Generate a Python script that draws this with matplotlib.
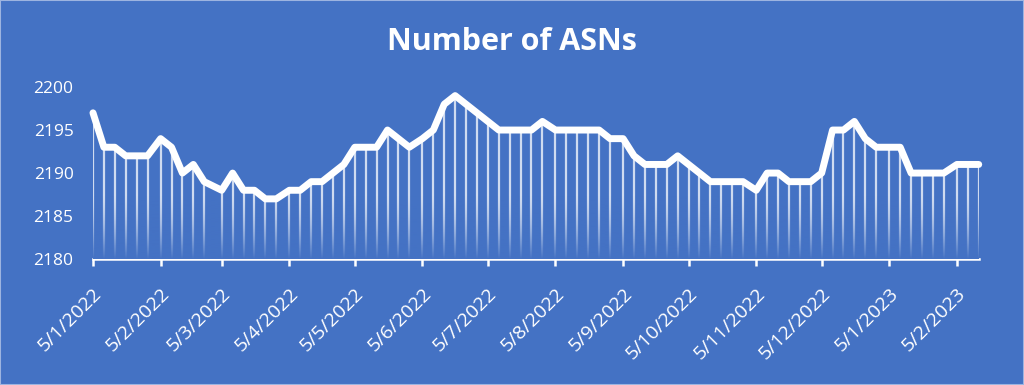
import matplotlib
matplotlib.use('Agg')
import matplotlib.pyplot as plt
import matplotlib.dates as mdates
import numpy as np
from datetime import date
from matplotlib.patches import Rectangle

# readings taken on day 5, 10, 15, 20, 25, 30 of each month (no 30 Feb)
days = [5, 10, 15, 20, 25, 30]
months = [(2022, m) for m in range(1, 13)] + [(2023, 1), (2023, 2)]
dates = [date(y, m, d) for (y, m) in months for d in days
         if not (m == 2 and d == 30)]
dates = dates[:80]  # data ends on 15/2/2023

asns = [2197, 2193, 2193, 2192, 2192, 2192,   # Jan 2022
        2194, 2193, 2190, 2191, 2189,         # Feb
        2188, 2190, 2188, 2188, 2187, 2187,   # Mar
        2188, 2188, 2189, 2189, 2190, 2191,   # Apr
        2193, 2193, 2193, 2195, 2194, 2193,   # May
        2194, 2195, 2198, 2199, 2198, 2197,   # Jun
        2196, 2195, 2195, 2195, 2195, 2196,   # Jul
        2195, 2195, 2195, 2195, 2195, 2194,   # Aug
        2194, 2192, 2191, 2191, 2191, 2192,   # Sep
        2191, 2190, 2189, 2189, 2189, 2189,   # Oct
        2188, 2190, 2190, 2189, 2189, 2189,   # Nov
        2190, 2195, 2195, 2196, 2194, 2193,   # Dec
        2193, 2193, 2190, 2190, 2190, 2190,   # Jan 2023
        2191, 2191, 2191]                     # Feb 2023

bg = '#4472C4'
plt.rcParams['font.family'] = ['Open Sans', 'DejaVu Sans']

fig = plt.figure(figsize=(10.24, 3.85), dpi=100)
fig.patch.set_facecolor(bg)
fig.patches.append(Rectangle((0, 0), 1, 1, transform=fig.transFigure,
                             fill=False, edgecolor='#9DB4E0', lw=1.5))

ax = fig.add_axes([0.0908, 0.327, 0.865, 0.447])
ax.set_facecolor(bg)

xd = mdates.date2num(dates)
ax.vlines(xd, 2180, asns, color='white', lw=1.6, alpha=0.75, zorder=2)

# fade the drop lines toward the axis
grad = np.zeros((100, 1, 4))
rgb = matplotlib.colors.to_rgb(bg)
grad[..., :3] = rgb
grad[:, 0, 3] = np.linspace(0, 1, 100) ** 1.5
ax.imshow(grad, extent=[xd[0] - 2, xd[-1] + 2, 2180, 2187.5], aspect='auto',
          origin='upper', zorder=3, interpolation='bilinear')

ax.plot(xd, asns, color='white', lw=5, solid_joinstyle='round',
        solid_capstyle='round', zorder=4, clip_on=False)

ax.set_xlim(xd[0], xd[-1])
ax.set_ylim(2180, 2200)
ax.set_yticks(np.arange(2180, 2201, 5))

ax.xaxis.set_major_locator(mdates.MonthLocator(bymonthday=5))
ax.xaxis.set_major_formatter(plt.FuncFormatter(
    lambda v, p: '{0.day}/{0.month}/{0.year}'.format(mdates.num2date(v))))

for s in ['top', 'right', 'left']:
    ax.spines[s].set_visible(False)
ax.spines['bottom'].set_color('white')
ax.spines['bottom'].set_linewidth(1.8)
ax.tick_params(axis='x', colors='white', length=5, width=1.8, pad=13,
               labelsize=14)
ax.tick_params(axis='y', colors='white', length=0, pad=14, labelsize=12.5)
for lab in ax.get_xticklabels():
    lab.set_rotation(45)
    lab.set_ha('right')
    lab.set_rotation_mode('anchor')

fig.text(0.5, 0.891, 'Number of ASNs', color='white', fontsize=22,
         fontweight='bold', ha='center', va='center')

plt.savefig('out.png', dpi=100, facecolor=bg)
